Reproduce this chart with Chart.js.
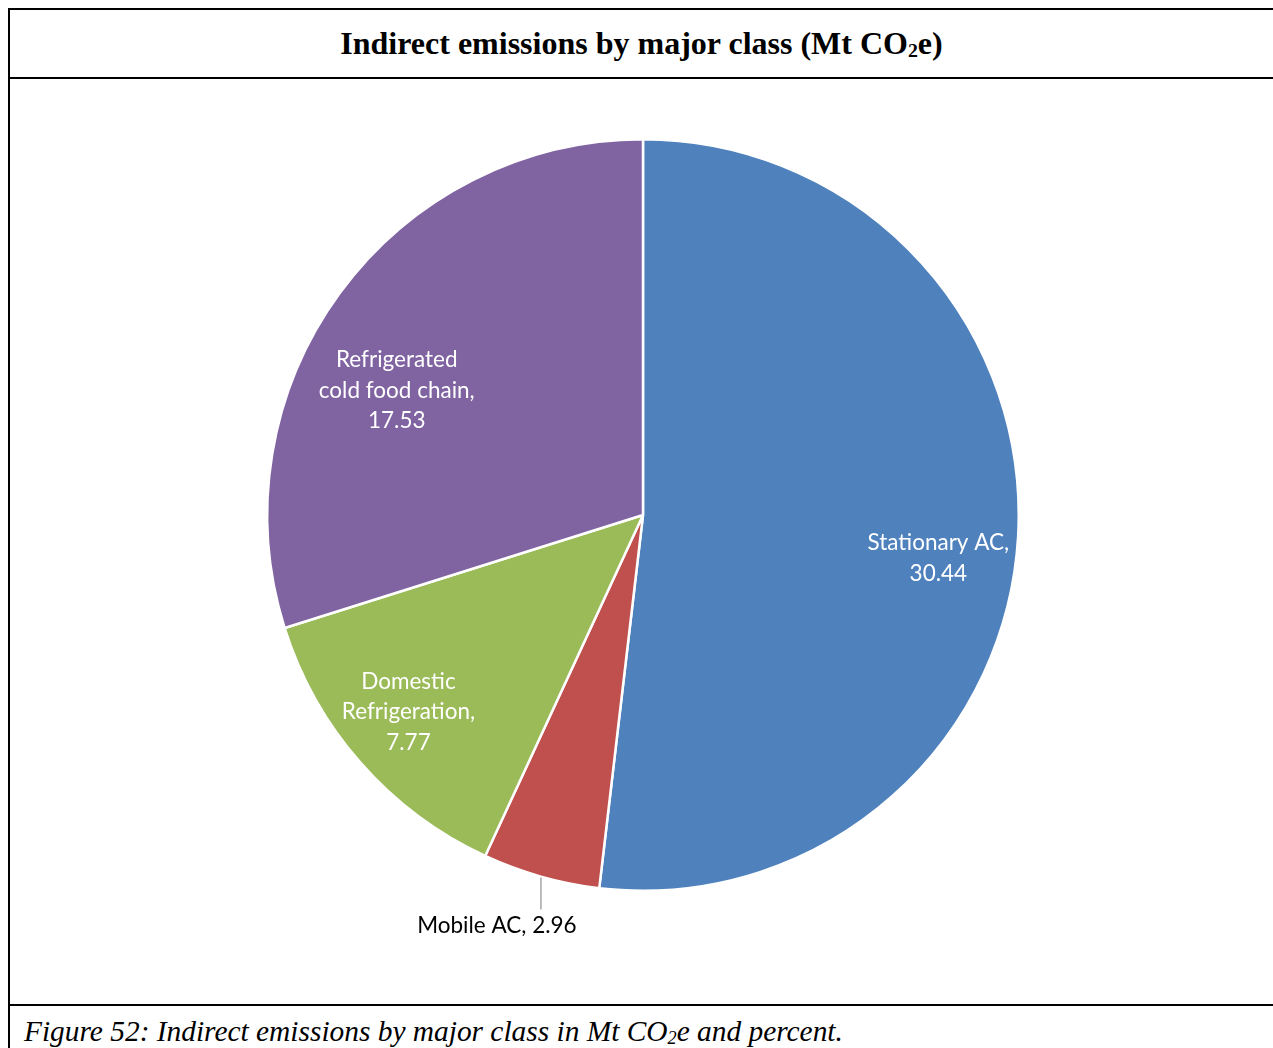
<!DOCTYPE html>
<html>
<head>
<meta charset="utf-8">
<script src="https://cdn.jsdelivr.net/npm/chart.js@4"></script>
<style>
  body { margin: 0; background: #fff; width: 1273px; height: 1048px; overflow: hidden; position: relative; }
  .hline { position: absolute; left: 8px; right: 0; height: 2px; background: #000; }
  .vline { position: absolute; left: 8px; top: 8px; bottom: 0; width: 2px; background: #000; }
  #title { position: absolute; left: 10px; right: 0; top: 25px; text-align: center;
    font: bold 32px "Liberation Serif", "Times New Roman", serif; color: #000; }
  #caption { position: absolute; left: 24px; top: 1015px;
    font: italic 29.4px "Liberation Serif", "Times New Roman", serif; color: #000; }
  sub { font-size: 0.62em; vertical-align: -0.15em; }
  #wrap { position: absolute; left: 10px; top: 80px; width: 1263px; height: 924px; }
</style>
</head>
<body>
<div class="hline" style="top:8px"></div>
<div class="hline" style="top:77px"></div>
<div class="hline" style="top:1004px"></div>
<div class="vline"></div>
<div id="title">Indirect emissions by major class (Mt CO<sub>2</sub>e)</div>
<div id="caption">Figure 52: Indirect emissions by major class in Mt CO<sub>2</sub>e and percent.</div>
<div id="wrap"><canvas id="pie"></canvas></div>
<script>
const categories = ['Stationary AC', 'Mobile AC', 'Domestic Refrigeration', 'Refrigerated cold food chain'];
const values = [30.44, 2.96, 7.77, 17.53];
const labelLines = [
  ['Stationary AC,', '30.44'],
  ['Mobile AC, 2.96'],
  ['Domestic', 'Refrigeration,', '7.77'],
  ['Refrigerated', 'cold food chain,', '17.53']
];
const colors = ['#4F81BD', '#C0504D', '#9BBB59', '#8064A2'];

// label placement: inside at a fraction of the radius, or outside with a leader line
const labelPlace = [
  { r: 0.79, dx: -1, dy: 26 },
  { outside: true },
  { r: 0.81, dx: -6, dy: -4 },
  { r: 0.74, dx: -22, dy: 40 }
];

const sliceLabels = {
  id: 'sliceLabels',
  afterDatasetsDraw(chart) {
    const ctx = chart.ctx;
    const meta = chart.getDatasetMeta(0);
    ctx.save();
    ctx.font = '22.5px Lato, "Open Sans", sans-serif';
    ctx.textAlign = 'center';
    ctx.textBaseline = 'middle';
    meta.data.forEach((arc, i) => {
      const p = arc.getProps(['x', 'y', 'startAngle', 'endAngle', 'outerRadius']);
      const mid = (p.startAngle + p.endAngle) / 2;
      const lines = labelLines[i];
      const place = labelPlace[i];
      if (place.outside) {
        const ex = p.x + Math.cos(mid) * p.outerRadius;
        const ey = p.y + Math.sin(mid) * p.outerRadius;
        ctx.strokeStyle = '#A6A6A6';
        ctx.lineWidth = 1.5;
        ctx.beginPath();
        ctx.moveTo(ex, ey + 1);
        ctx.lineTo(ex, ey + 33);
        ctx.stroke();
        ctx.fillStyle = '#000';
        ctx.fillText(lines[0], ex - 44, ey + 49);
        return;
      }
      const cx = p.x + Math.cos(mid) * p.outerRadius * place.r + place.dx;
      const cy = p.y + Math.sin(mid) * p.outerRadius * place.r + place.dy;
      const lh = 30.5;
      ctx.fillStyle = '#fff';
      lines.forEach((t, k) => {
        ctx.fillText(t, cx, cy + (k - (lines.length - 1) / 2) * lh);
      });
    });
    ctx.restore();
  }
};

new Chart(document.getElementById('pie'), {
  type: 'pie',
  data: {
    labels: categories,
    datasets: [{
      data: values,
      backgroundColor: colors,
      borderColor: '#fff',
      borderWidth: 2.5
    }]
  },
  options: {
    responsive: true,
    maintainAspectRatio: false,
    animation: false,
    layout: { padding: { left: 256, right: 253, top: 58, bottom: 112 } },
    plugins: {
      legend: { display: false },
      tooltip: { enabled: false }
    }
  },
  plugins: [sliceLabels]
});
</script>
</body>
</html>
